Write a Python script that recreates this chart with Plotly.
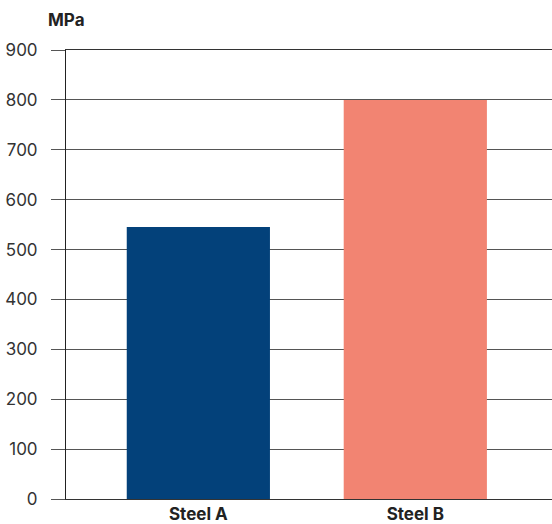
import plotly.graph_objects as go

categories = ["Steel A", "Steel B"]
values = [545, 800]
colors = ["#03417A", "#F28472"]
y_ticks = [0, 100, 200, 300, 400, 500, 600, 700, 800, 900]

FONT = "Inter, Roboto, sans-serif"

fig = go.Figure(go.Bar(x=categories, y=values, marker=dict(color=colors, line=dict(width=0)), width=0.66))

fig.update_layout(
    width=552, height=524,
    margin=dict(l=66, r=0, t=50, b=25),
    plot_bgcolor="white", paper_bgcolor="white",
    font=dict(family=FONT, color="#222"),
    showlegend=False,
    annotations=[dict(text="<b>MPa</b>", x=0, y=1, xref="paper", yref="paper",
                      xanchor="left", yanchor="bottom", xshift=-20, yshift=18,
                      showarrow=False, font=dict(size=17, color="#222", family=FONT))],
)
fig.update_xaxes(range=[-0.61, 1.63], showline=True, mirror=True, linecolor="#333", linewidth=1,
                 showgrid=False, ticks="", tickfont=dict(size=17, color="#222", family=FONT),
                 tickprefix="<b>", ticksuffix="</b>")
fig.update_yaxes(range=[0, 900], tickvals=y_ticks, showgrid=True, gridcolor="#555", gridwidth=1,
                 showline=True, linecolor="#222", linewidth=1, zeroline=False,
                 ticks="outside", ticklen=14, tickcolor="#555", tickwidth=1,
                 tickfont=dict(size=17, color="#333", family=FONT), ticklabelstandoff=10)

fig.write_html("out.html")
